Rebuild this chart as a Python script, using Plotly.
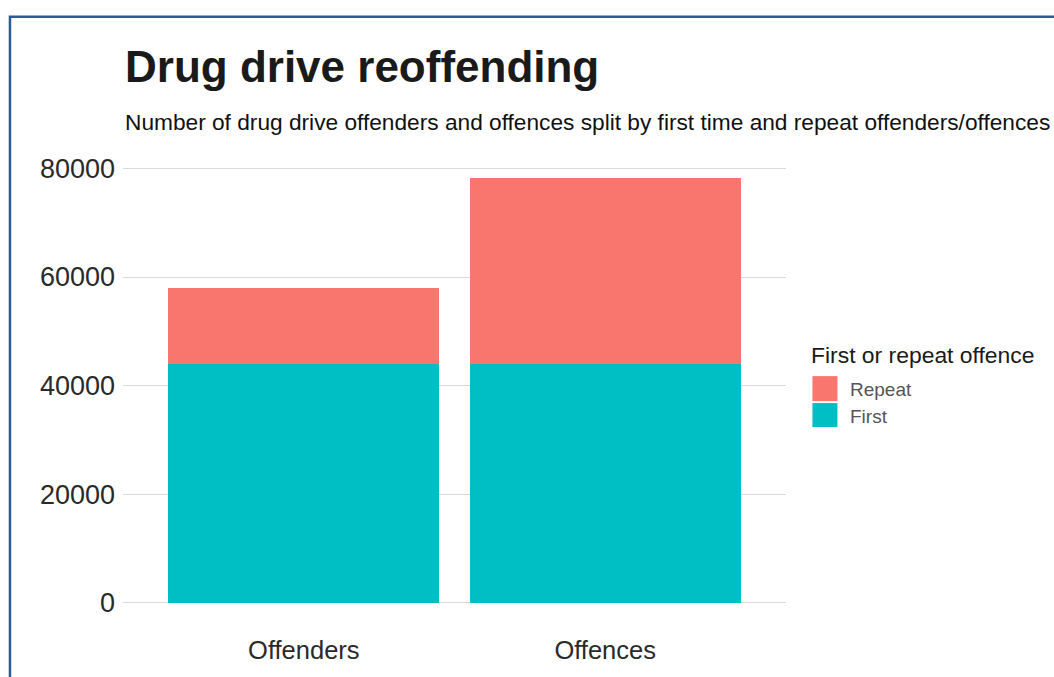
import plotly.graph_objects as go

categories = ["Offenders", "Offences"]
first_vals = [44000, 44000]
repeat_vals = [14000, 34200]
series_names = ["First", "Repeat"]
y_ticks = [0, 20000, 40000, 60000, 80000]

W, H = 1054, 677
L, R, T, B = 123.4, 785.6, 156.5, 624.3

def px(x):
    return (x - L) / (R - L)

def py(y):
    return (B - y) / (B - T)

FONT = "Liberation Sans, Arial, sans-serif"
C_FIRST = "#00BFC4"
C_REPEAT = "#F8766D"

fig = go.Figure()
fig.add_trace(go.Bar(x=categories, y=first_vals, name=series_names[0],
                     marker=dict(color=C_FIRST, line=dict(width=0)), width=0.9))
fig.add_trace(go.Bar(x=categories, y=repeat_vals, name=series_names[1],
                     marker=dict(color=C_REPEAT, line=dict(width=0)), width=0.9))

ymax = max(f + r for f, r in zip(first_vals, repeat_vals))
pad = ymax * 0.05

fig.update_layout(
    width=W, height=H,
    barmode="stack",
    showlegend=False,
    paper_bgcolor="white", plot_bgcolor="white",
    margin=dict(l=L, r=W - R, t=T, b=H - B, pad=0),
    font=dict(family=FONT, color="#333333"),
    xaxis=dict(range=[-0.6, 1.6], showgrid=False, zeroline=False, showline=False,
               ticks="", tickfont=dict(size=25.5, color="#2a2a2a"), ticklabelstandoff=8),
    yaxis=dict(range=[-pad, ymax + pad], tickvals=y_ticks, ticktext=[str(v) for v in y_ticks],
               showgrid=True, gridcolor="#d9d9d9", gridwidth=1, zeroline=False,
               showline=False, ticks="", tickfont=dict(size=27, color="#2a2a2a"),
               ticklabelstandoff=7),
)

ann = [
    dict(text="<b>Drug drive reoffending</b>", x=0, y=py(66), xanchor="left", yanchor="middle",
         font=dict(size=44, color="#1a1a1a")),
    dict(text="Number of drug drive offenders and offences split by first time and repeat offenders/offences",
         x=0, y=py(121), xanchor="left", yanchor="middle", font=dict(size=22.7, color="#111111")),
    dict(text="First or repeat offence", x=px(809), y=py(355), xanchor="left", yanchor="middle",
         font=dict(size=22.9, color="#1a1a1a")),
    dict(text=series_names[1], x=px(848), y=py(389), xanchor="left", yanchor="middle",
         font=dict(size=19, color="#555555")),
    dict(text=series_names[0], x=px(848), y=py(416), xanchor="left", yanchor="middle",
         font=dict(size=19, color="#555555")),
]
for a in ann:
    a.update(xref="paper", yref="paper", showarrow=False)
fig.update_layout(annotations=ann)

shapes = [
    dict(type="rect", xref="paper", yref="paper", x0=px(812), x1=px(837), y0=py(401), y1=py(376),
         fillcolor=C_REPEAT, line=dict(width=0)),
    dict(type="rect", xref="paper", yref="paper", x0=px(812), x1=px(837), y0=py(427), y1=py(403),
         fillcolor=C_FIRST, line=dict(width=0)),
    dict(type="rect", xref="paper", yref="paper", x0=px(10.5), x1=px(1070), y0=py(700), y1=py(16),
         fillcolor="rgba(0,0,0,0)", line=dict(width=2.5, color="#2a5a9c")),
]
fig.update_layout(shapes=shapes)

fig.write_html("out.html")
